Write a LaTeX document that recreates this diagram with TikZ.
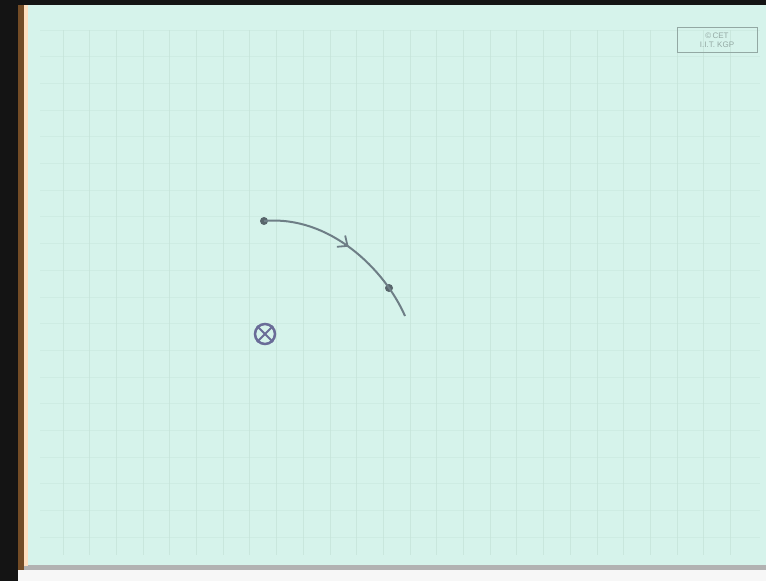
\documentclass[tikz,border=0pt]{standalone}
\usepackage{fontspec}
\setmainfont{Liberation Sans}
\usetikzlibrary{arrows.meta,decorations.markings}
\definecolor{paper}{HTML}{D6F3EB}
\definecolor{gridc}{HTML}{C6E4DA}
\definecolor{curvec}{HTML}{6E7E86}
\definecolor{crossc}{HTML}{6A6C98}
\definecolor{logoc}{HTML}{93A8A3}
\tikzset{
  gridline/.style={gridc, line width=1pt},
  dotnode/.style={circle, fill=curvec!80!black, inner sep=0pt, minimum size=8pt},
  pathline/.style={curvec, line width=2pt},
  logobox/.style={draw=logoc, line width=1pt, minimum width=80pt, minimum height=25pt, align=center, inner sep=1pt, font=\fontsize{8}{8.5}\selectfont, text=logoc}
}
\begin{document}
\begin{tikzpicture}[x=1pt,y=-1pt]
\useasboundingbox (0,0) rectangle (766,581);
% background
\fill[paper] (0,0) rectangle (766,581);
\fill[white!94!gray] (0,570) rectangle (766,581);
\fill[gray!60] (20,565) rectangle (766,570);
\fill[black!92] (0,0) rectangle (766,5);
\fill[black!92] (0,0) rectangle (18,581);
\fill[brown!60!black] (18,5) rectangle (24,570);
\fill[orange!25] (24,5) rectangle (28,566);
% grid
\foreach \i in {0,...,25} {
  \draw[gridline, opacity=0.8] ({63+26.7*\i},30) -- ({63+26.7*\i},555);
}
\foreach \j in {0,...,19} {
  \draw[gridline, opacity=0.45] (40,{30+26.7*\j}) -- (760,{30+26.7*\j});
}
% logo
\node[logobox] (logo) at (717,40) {\textcopyright\,CET\\I.I.T. KGP};
% curve
\node[dotnode] (p1) at (264,221) {};
\node[dotnode] (p2) at (389,288) {};
\coordinate (pend) at (405,316);
\draw[pathline, decoration={markings, mark=at position 0.5 with {\arrow{Straight Barb[length=8pt,width=14pt,line width=1.8pt]}}}, postaction={decorate}]
  (p1.center) .. controls (330,215) and (385,270) .. (pend);
% circled cross
\node[circle, draw=crossc, line width=2.5pt, minimum size=20pt, inner sep=0pt] (cx) at (265,334) {};
\draw[crossc, line width=2pt] (cx.north east) -- (cx.south west) (cx.north west) -- (cx.south east);
\end{tikzpicture}
\end{document}
